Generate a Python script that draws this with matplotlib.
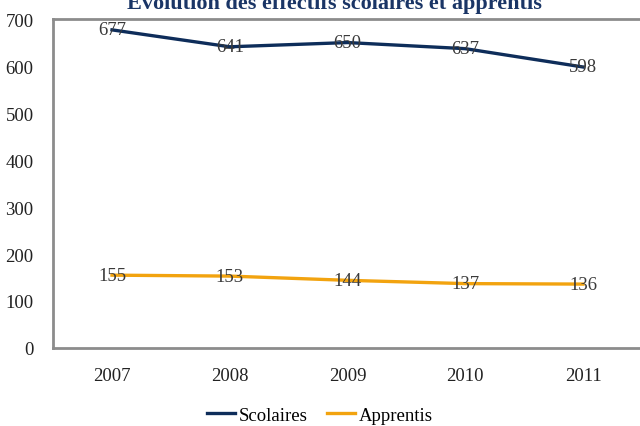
import matplotlib
matplotlib.use("Agg")
import matplotlib.pyplot as plt

years = ["2007", "2008", "2009", "2010", "2011"]
scolaires = [677, 641, 650, 637, 598]
apprentis = [155, 153, 144, 137, 136]
title = "Évolution des effectifs scolaires et apprentis"

plt.rcParams['font.family'] = ['Liberation Serif', 'DejaVu Serif']

fig = plt.figure(figsize=(6.4, 4.27), dpi=100)
ax = fig.add_axes([0.083, 0.1827, 0.92, 0.7703])

x = list(range(len(years)))
ax.plot(x, scolaires, color="#0e2d5a", lw=2.4, label="Scolaires")
ax.plot(x, apprentis, color="#f2a30f", lw=2.4, label="Apprentis")
for xi, v in zip(x, scolaires):
    ax.text(xi, v, str(v), ha="center", va="center", fontsize=13.5, color="#3a3a3a")
for xi, v in zip(x, apprentis):
    ax.text(xi, v, str(v), ha="center", va="center", fontsize=13.5, color="#3a3a3a")

ax.set_xlim(-0.5, 4.5)
ax.set_ylim(0, 700)
ax.set_yticks(range(0, 701, 100))
ax.set_xticks(x)
ax.set_xticklabels(years)
ax.tick_params(axis="both", length=0, labelsize=13.5, colors="#222222")
ax.tick_params(axis="x", pad=14)
ax.tick_params(axis="y", pad=14)
for s in ax.spines.values():
    s.set_color("#8c8c8c")
    s.set_linewidth(2)

fig.text(0.523, 0.993, title, ha="center", va="center", fontsize=16,
         fontweight="bold", color="#1a3566")

fig.legend(loc="center", bbox_to_anchor=(0.5, 0.025), ncol=2, frameon=False,
           fontsize=13.5, handlelength=1.5, handletextpad=0.2, columnspacing=1.0)

fig.savefig("out.png", dpi=100)
